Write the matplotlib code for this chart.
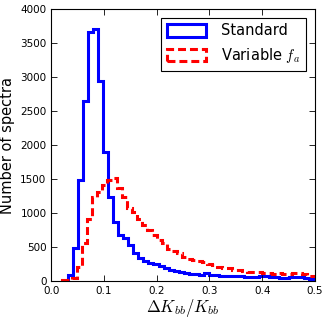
import numpy as np
import matplotlib
matplotlib.use("Agg")
import matplotlib.pyplot as plt
from matplotlib.patches import Patch

plt.rcParams['mathtext.fontset'] = 'cm'

bin_width = 0.0095
std_start = 0.0323
var_start = 0.0196

std_counts = [85, 480, 1485, 2640, 3660, 3700, 2940, 1900, 1240, 865,
              680, 635, 529, 420, 345, 300, 270, 245, 220, 200,
              170, 155, 130, 120, 110, 100, 95, 125, 90, 85,
              80, 80, 78, 72, 68, 65, 62, 62, 68, 70,
              58, 55, 45, 42, 55, 60, 58, 40, 38, 45]

var_counts = [10, 20, 40, 210, 555, 920, 1240, 1305, 1410, 1485,
              1510, 1363, 1240, 1078, 1019, 910, 823, 750, 676, 603,
              554, 470, 441, 407, 357, 323, 309, 294, 284, 245,
              235, 210, 196, 186, 170, 160, 150, 135, 130, 140,
              115, 120, 110, 120, 105, 100, 120, 115, 100, 80, 75]

std_edges = std_start + bin_width * np.arange(len(std_counts) + 1)
var_edges = var_start + bin_width * np.arange(len(var_counts) + 1)

fig = plt.figure(figsize=(3.27, 3.18), dpi=100)
ax = fig.add_axes([0.157, 0.116, 0.806, 0.856])

dash = (0, (2.6, 1.3))
ax.stairs(std_counts, std_edges, color='blue', linewidth=2.2)
ax.stairs(var_counts, var_edges, color='red', linewidth=2.2, linestyle=dash)

ax.set_xlim(0, 0.5)
ax.set_ylim(0, 4000)
ax.set_xticks(np.arange(0, 0.51, 0.1))
ax.set_yticks(np.arange(0, 4001, 500))
ax.tick_params(direction='in', top=True, right=True, labelsize=7.5, length=4, width=0.6)
for s in ax.spines.values():
    s.set_linewidth(0.8)

ax.set_xlabel(r'$\Delta K_{bb}/K_{bb}$', fontsize=12, labelpad=1)
ax.set_ylabel('Number of spectra', fontsize=10.5, labelpad=4)

handles = [Patch(facecolor='none', edgecolor='blue', linewidth=2.2, label='Standard'),
           Patch(facecolor='none', edgecolor='red', linewidth=2.2, linestyle=dash,
                 label='Variable $f_a$')]
leg = ax.legend(handles=handles, loc='upper right', fontsize=10.5, fancybox=False,
                edgecolor='black', framealpha=1, handlelength=2.7, handleheight=0.9,
                borderaxespad=0.6, handletextpad=1.0)
leg.get_frame().set_linewidth(0.8)

fig.savefig('out.png', dpi=100)
